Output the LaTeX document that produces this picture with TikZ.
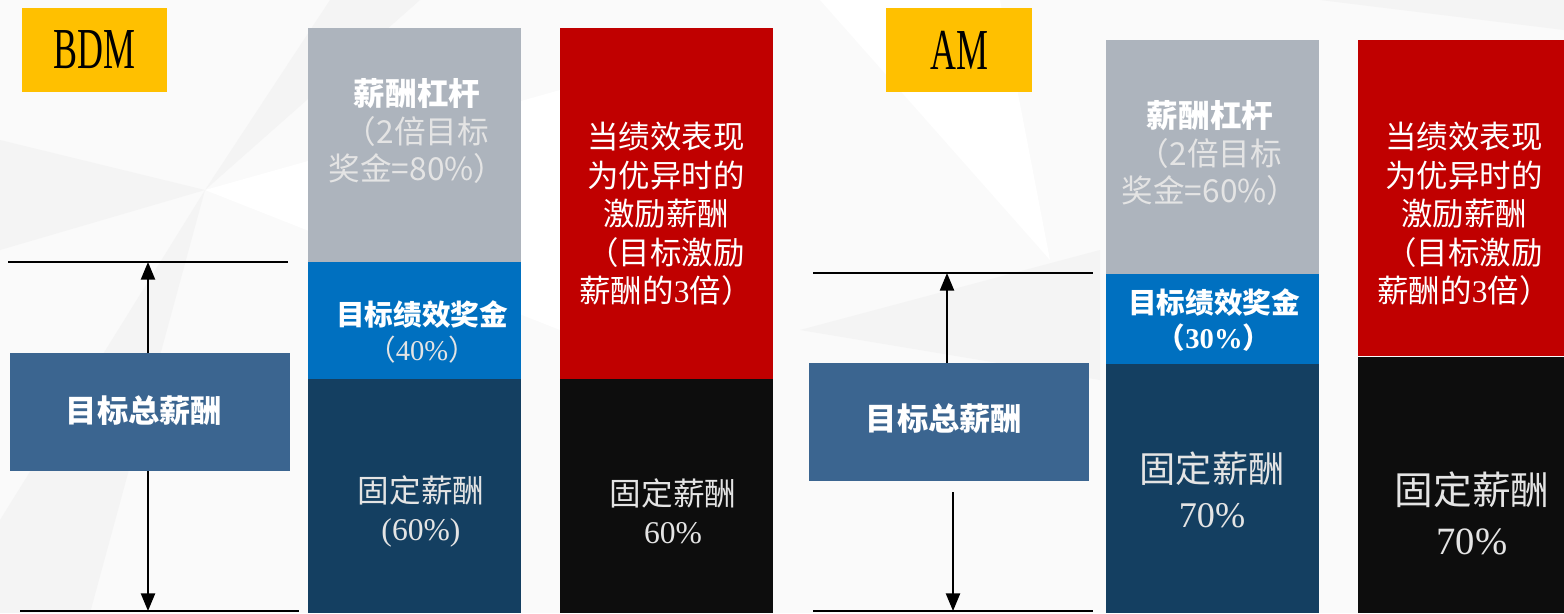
\documentclass[tikz,border=0pt]{standalone}
\usepackage{fontspec}
\usepackage{graphicx}
\setmainfont{Liberation Serif}
\newfontfamily\cjk{Noto Sans CJK SC}
\newfontfamily\tms{Liberation Serif}
\usetikzlibrary{fit,arrows.meta}
\definecolor{bgc}{HTML}{FAFAFA}
\definecolor{bgd}{HTML}{F4F4F4}
\definecolor{yel}{HTML}{FFC000}
\definecolor{lev}{HTML}{ADB4BD}
\definecolor{tgt}{HTML}{0070C0}
\definecolor{fix}{HTML}{143F61}
\definecolor{exc}{HTML}{C00000}
\definecolor{blk}{HTML}{0D0D0D}
\definecolor{tot}{HTML}{3B6590}
\definecolor{lt}{HTML}{E4E4E4}
\tikzset{
  colbox/.style={inner sep=0pt, outer sep=0pt, draw=none},
  tagtxt/.style={inner sep=0pt, font=\tms\fontsize{33}{33}\selectfont, text=black},
  tottxt/.style={inner sep=0pt, text=white, font=\cjk\fontsize{17.8}{21}\selectfont\bfseries},
  txt/.style={text=white, align=center, inner sep=0pt, outer sep=0pt},
  hline/.style={line width=1.1pt, black},
  arr/.style={line width=1.1pt, black, -{Triangle[width=8pt,length=10pt]}}
}
\begin{document}
\begin{tikzpicture}[x=0.02cm,y=-0.02cm]
\useasboundingbox (0,0) rectangle (1564,613);
\fill[bgc] (0,0) rectangle (1564,613);
% faint background facets
\fill[bgd] (0,250) -- (205,190) -- (0,140) -- cycle;
\fill[bgd] (205,190) -- (330,0) -- (420,0) -- cycle;
\fill[bgd] (0,520) -- (205,190) -- (90,613) -- (0,613) -- cycle;
\fill[bgd] (800,330) -- (1100,250) -- (1100,380) -- cycle;
\fill[bgd] (1320,0) -- (1564,0) -- (1564,30) -- cycle;
\fill[white] (205,190) -- (560,90) -- (560,330) -- cycle;
\fill[white] (820,0) -- (1000,0) -- (1050,260) -- cycle;

% ---------------- BDM ----------------
\node[colbox, fill=yel, fit={(22,8) (167,92)}] (bdm) {};
\node[tagtxt] (bdmt) at (bdm.center) {\scalebox{0.62}[1]{BDM}};

\node[colbox, fill=lev, fit={(308,28) (521,262)}] (lev1) {};
\node[colbox, fill=tgt, fit={(308,262) (521,379)}] (tgt1) {};
\node[colbox, fill=fix, fit={(308,379) (521,613)}] (fix1) {};
\node[colbox, fill=exc, fit={(560,28) (773,379)}] (exc1) {};
\node[colbox, fill=blk, fit={(560,379) (773,613)}] (blk1) {};

\node[txt, font=\cjk\fontsize{18}{21.4}\selectfont] (lev1t) at (417,131)
  {\textbf{薪酬杠杆}\\\textcolor{lt}{（2倍目标}\\\textcolor{lt}{奖金=80\%）}};
\node[txt, font=\cjk\fontsize{16.3}{20}\selectfont] (tgt1t) at (422,332)
  {\textbf{目标绩效奖金}\\\textcolor{lt}{（\tms 40\%\cjk）}};
\node[txt, font=\cjk\fontsize{18}{21.6}\selectfont, text=lt] (fix1t) at (421,511)
  {固定薪酬\\{\tms (60\%)}};
\node[txt, font=\cjk\fontsize{17.9}{21.9}\selectfont] (exc1t) at (666,214)
  {当绩效表现\\为优异时的\\激励薪酬\\（目标激励\\薪酬的{\tms 3}倍）};
\node[txt, font=\cjk\fontsize{18}{21.6}\selectfont, text=lt] (blk1t) at (673,511)
  {固定薪酬\\{\tms 60\%}};

\node[colbox, fill=tot, fit={(10,353) (290,471)}] (tot1) {};
\node[tottxt] (tot1t) at (144,411) {目标总薪酬};
\coordinate (t1a) at (8,262);
\coordinate (t1b) at (288,262);
\coordinate (b1a) at (20,611);
\coordinate (b1b) at (299,611);
\draw[hline] (t1a) -- (t1b);
\draw[hline] (b1a) -- (b1b);
\draw[arr] ([shift={(-2,0)}]tot1.north) -- ([shift={(-2,0)}]tot1.north |- t1a);
\draw[arr] ([shift={(-2,0)}]tot1.south) -- ([shift={(-2,0)}]tot1.south |- b1a);

% ---------------- AM ----------------
\node[colbox, fill=yel, fit={(886,8) (1032,92)}] (am) {};
\node[tagtxt] (amt) at (am.center) {\scalebox{0.62}[1]{AM}};

\node[colbox, fill=lev, fit={(1106,40) (1319,274)}] (lev2) {};
\node[colbox, fill=tgt, fit={(1106,274) (1319,364)}] (tgt2) {};
\node[colbox, fill=fix, fit={(1106,364) (1319,613)}] (fix2) {};
\node[colbox, fill=exc, fit={(1358,40) (1564,356)}] (exc2) {};
\node[colbox, fill=blk, fit={(1358,357) (1564,613)}] (blk2) {};

\node[txt, font=\cjk\fontsize{18}{21.4}\selectfont] (lev2t) at (1210,153)
  {\textbf{薪酬杠杆}\\\textcolor{lt}{（2倍目标}\\\textcolor{lt}{奖金=60\%）}};
\node[txt, font=\cjk\fontsize{16.3}{20}\selectfont\bfseries] (tgt2t) at (1214,320)
  {目标绩效奖金\\（{\tms\bfseries 30\%}）};
\node[txt, font=\cjk\fontsize{20.6}{26}\selectfont, text=lt] (fix2t) at (1212,490)
  {固定薪酬\\{\tms 70\%}};
\node[txt, font=\cjk\fontsize{17.9}{21.9}\selectfont] (exc2t) at (1464,214)
  {当绩效表现\\为优异时的\\激励薪酬\\（目标激励\\薪酬的{\tms 3}倍）};
\node[txt, font=\cjk\fontsize{22}{28.5}\selectfont, text=lt] (blk2t) at (1472,513)
  {固定薪酬\\{\tms 70\%}};

\node[colbox, fill=tot, fit={(809,363) (1089,481)}] (tot2) {};
\node[tottxt] (tot2t) at (944,419) {目标总薪酬};
\coordinate (t2a) at (813,273);
\coordinate (t2b) at (1093,273);
\coordinate (b2a) at (813,611);
\coordinate (b2b) at (1093,611);
\draw[hline] (t2a) -- (t2b);
\draw[hline] (b2a) -- (b2b);
\draw[arr] ([shift={(-2,0)}]tot2.north) -- ([shift={(-2,0)}]tot2.north |- t2a);
\draw[arr] ([shift={(4,11)}]tot2.south) -- ([shift={(4,0)}]tot2.south |- b2a);
\end{tikzpicture}
\end{document}
